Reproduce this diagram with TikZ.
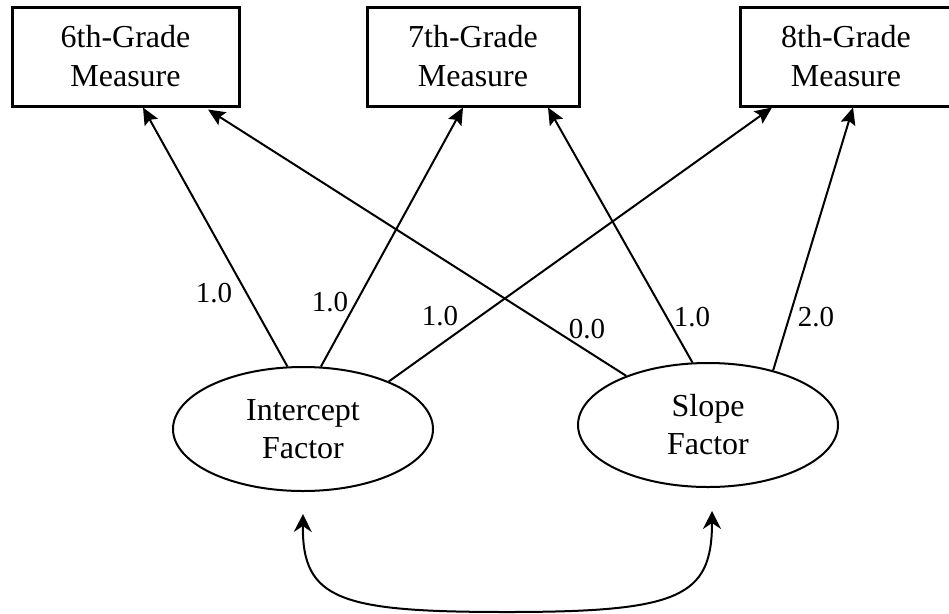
\documentclass[tikz,border=0pt]{standalone}
\usepackage{fontspec}
\setmainfont{Liberation Serif}
\usetikzlibrary{arrows.meta,shapes.geometric}
\begin{document}
\begin{tikzpicture}[x=1pt,y=-1pt,
  box/.style={draw, line width=3pt, minimum height=99pt, inner sep=0pt, align=center,
    font=\fontsize{32}{39}\selectfont},
  factor/.style={draw, ellipse, line width=2pt, minimum width=260pt, minimum height=124pt,
    inner sep=0pt, align=center, font=\fontsize{32}{38}\selectfont},
  load/.style={line width=2pt, -{Stealth[length=17pt,width=15pt,inset=3pt]}},
  wt/.style={font=\fontsize{29}{29}\selectfont, inner sep=0pt},
  cov/.style={line width=2pt,
    {Stealth[length=18pt,width=18pt,inset=6pt]}-{Stealth[length=18pt,width=18pt,inset=6pt]}}]
\useasboundingbox (0,0) rectangle (949,613);
\node[box, minimum width=227pt] (b6) at (125.5,56.5) {6th-Grade\\Measure};
\node[box, minimum width=212pt] (b7) at (473,56.5) {7th-Grade\\Measure};
\node[box, minimum width=212pt] (b8) at (846,56.5) {8th-Grade\\Measure};
\node[factor] (i) at (303,429) {Intercept\\Factor};
\node[factor] (s) at (708,425) {Slope\\Factor};
% loadings
\draw[load] (i.104.7) -- ([xshift=17.5pt]b6.south);
\draw[load] (i.74.4) -- ([xshift=-10pt]b7.south);
\draw[load] (i.29.2) -- ([xshift=-74pt]b8.south);
\draw[load] (s.149.4) -- ([xshift=82.5pt,yshift=-2pt]b6.south);
\draw[load] (s.104.3) -- ([xshift=75pt]b7.south);
\draw[load] (s.40) -- ([xshift=7pt]b8.south);
% weights
\node[wt] (w1) at (214,293) {1.0};
\node[wt] (w2) at (330,302) {1.0};
\node[wt] (w3) at (440,316) {1.0};
\node[wt] (w4) at (587,329) {0.0};
\node[wt] (w5) at (692,317) {1.0};
\node[wt] (w6) at (816,317) {2.0};
% covariance
\draw[cov] ([yshift=-22pt]i.south) .. controls (302,600) and (340,612) .. (507,612)
  .. controls (680,612) and (712,597) .. ([xshift=4pt,yshift=-23pt]s.south);
\end{tikzpicture}
\end{document}
